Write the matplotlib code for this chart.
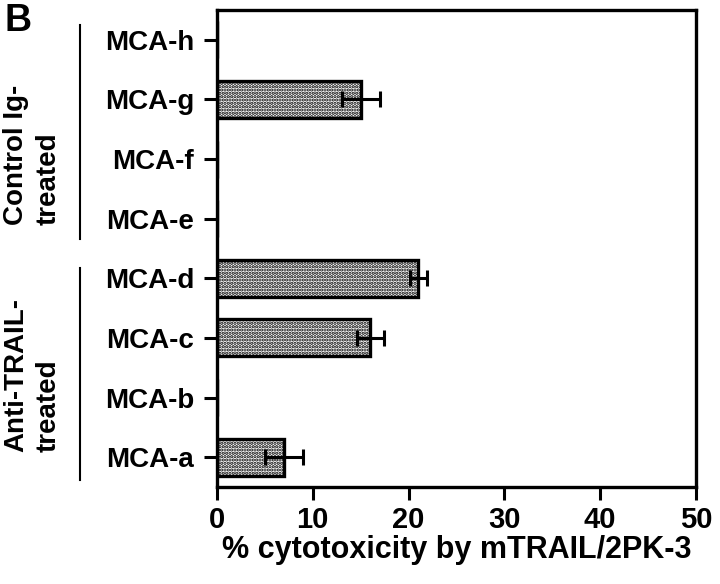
import numpy as np
import matplotlib
matplotlib.use('Agg')
from matplotlib import pyplot as plt
from matplotlib.lines import Line2D

plt.rcParams['font.family'] = ['Liberation Sans', 'DejaVu Sans']
plt.rcParams['font.weight'] = 'bold'
plt.rcParams['hatch.linewidth'] = 1.6

# data, bottom to top
cell_lines = ['MCA-a', 'MCA-b', 'MCA-c', 'MCA-d', 'MCA-e', 'MCA-f', 'MCA-g', 'MCA-h']
cytotox = [7.0, 0.0, 16.0, 21.0, 0.0, 0.0, 15.0, 0.0]
cytotox_err = [2.0, 0.0, 1.4, 0.9, 0.0, 0.0, 2.0, 0.0]
xticks = [0, 10, 20, 30, 40, 50]

fig = plt.figure(figsize=(7.2, 5.84), dpi=100)
ax = fig.add_axes([0.3014, 0.1661, 0.6653, 0.8168])

y = np.arange(len(cell_lines))
ax.barh(y, cytotox, height=0.62, color='white', edgecolor='black',
        linewidth=2.4, hatch='.....', zorder=2)
has = [i for i, v in enumerate(cytotox) if v > 0]
ax.errorbar([cytotox[i] for i in has], [y[i] for i in has],
            xerr=[cytotox_err[i] for i in has], fmt='none', ecolor='black',
            elinewidth=2.2, capsize=6, capthick=2.2, zorder=3)

ax.set_xlim(0, 50)
ax.set_ylim(-0.5, 7.5)
ax.set_xticks(xticks)
ax.set_xticklabels([str(t) for t in xticks], fontsize=21, fontweight='bold')
ax.set_yticks(y)
ax.set_yticklabels(cell_lines, fontsize=20, fontweight='bold')
ax.tick_params(axis='both', direction='out', length=9.5, width=2.2)
ax.tick_params(axis='x', pad=4)
ax.tick_params(axis='y', pad=7)
for sp in ax.spines.values():
    sp.set_linewidth(2.4)
ax.set_xlabel('% cytotoxicity by mTRAIL/2PK-3', fontsize=22,
              fontweight='bold', labelpad=1)

# group labels on the left
fig.text(0.006, 0.995, 'B', fontsize=27, fontweight='bold', va='top', ha='left')
fig.text(0.022, 0.615, 'Control Ig-', rotation=90, fontsize=20,
         fontweight='bold', ha='center', va='bottom')
fig.text(0.067, 0.615, 'treated', rotation=90, fontsize=20,
         fontweight='bold', ha='center', va='bottom')
fig.text(0.022, 0.226, 'Anti-TRAIL-', rotation=90, fontsize=20,
         fontweight='bold', ha='center', va='bottom')
fig.text(0.067, 0.226, 'treated', rotation=90, fontsize=20,
         fontweight='bold', ha='center', va='bottom')
fig.add_artist(Line2D([0.111, 0.111], [0.957, 0.591], color='black', lw=1.5))
fig.add_artist(Line2D([0.111, 0.111], [0.541, 0.178], color='black', lw=1.5))

fig.savefig('out.png', dpi=100)
